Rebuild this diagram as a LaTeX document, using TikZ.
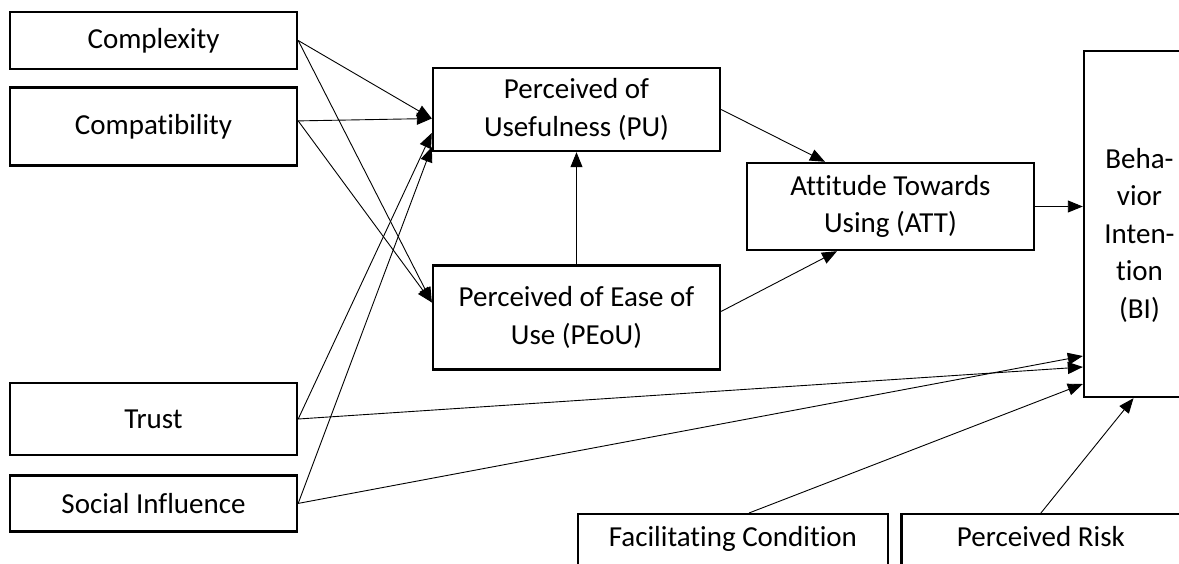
\documentclass[tikz,border=0pt]{standalone}
\usepackage{fontspec}
\setmainfont{Carlito}[Ligatures=NoCommon]
\usepackage{tikz}
\usetikzlibrary{bayesnet}
\usetikzlibrary{positioning, arrows.meta}

\tikzset{
  construct/.style={rectangle, draw=black, line width=2.4pt, fill=white, align=center,
    minimum width=287pt, inner sep=3pt, font=\fontsize{29}{37.5}\selectfont},
  conn/.style={>={Triangle[length=15pt,width=12pt]}, line width=0.9pt}
}

\begin{document}
\begin{tikzpicture}[x=1pt, y=-1pt]

\useasboundingbox (0,0) rectangle (1179,563);

% define nodes

% external factors
\node[construct, minimum height=57pt] (cx) at (153.5,40.5) {Complexity};
\node[construct, below=16pt of cx, minimum height=78pt] (cp) {Compatibility};
\node[construct, minimum height=72pt] (tr) at (153.5,419) {Trust};
\node[construct, below=18pt of tr, minimum height=56pt] (si) {Social Influence};

% TAM constructs
\node[construct, minimum height=83pt] (pu) at (576.5,109.5) {Perceived of\\Usefulness (PU)};
\node[construct, below=112pt of pu, minimum height=104pt] (peou) {Perceived of Ease of\\Use (PEoU)};
\node[construct, minimum height=87pt] (att) at (890.5,206.5) {Attitude Towards\\Using (ATT)};
\node[construct, minimum width=111pt, minimum height=346pt] (bi) at (1139.5,224) {\rule{0pt}{43pt}Beha-\\vior\\Inten-\\tion\\(BI)};

% bottom row
\node[construct, anchor=north, minimum width=310pt, minimum height=81pt] (fc) at (733,513) {Facilitating Condition\\\mbox{}};
\node[construct, right=11pt of fc, minimum width=279pt, minimum height=81pt] (pr) {Perceived Risk\\\mbox{}};

% docking points
\coordinate (cpout) at ([yshift=5.5pt]cp.east);
\coordinate (pua) at ([yshift=-9pt]pu.west);
\coordinate (pub) at ([yshift=-23.5pt]pu.west);
\coordinate (puc) at ([yshift=-37.5pt]pu.west);
\coordinate (peoua) at ([yshift=15pt]peou.west);
\coordinate (peouout) at ([yshift=6pt]peou.east);
\coordinate (atta) at ([xshift=-65.5pt]att.north);
\coordinate (attb) at ([xshift=-53.5pt]att.south);
\coordinate (bia) at ([yshift=-132pt]bi.west);
\coordinate (bib) at ([yshift=-143pt]bi.west);
\coordinate (bic) at ([yshift=-160pt]bi.west);
\coordinate (bid) at ([xshift=-6pt]bi.south);
\coordinate (bie) at (att.east -| bi.west);
\coordinate (fcout) at ([xshift=16pt]fc.north);

% edges

\edge[conn] {cx.east} {pua, peoua};
\edge[conn] {cpout} {pua, peoua};
\edge[conn] {tr.east} {pub, bib};
\edge[conn] {si.east} {puc, bia};

\edge[conn] {peou} {pu};
\edge[conn] {pu.east} {atta};
\edge[conn] {peouout} {attb};
\edge[conn] {att.east} {bie};

\edge[conn] {fcout} {bic};
\edge[conn] {pr.north} {bid};

\end{tikzpicture}
\end{document}
